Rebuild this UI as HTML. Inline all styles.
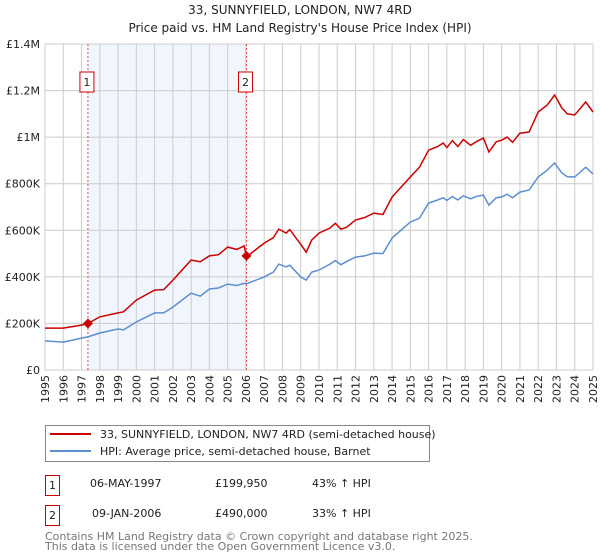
<!DOCTYPE html>
<html><head><meta charset="utf-8"><style>
body{margin:0;background:#fff;font-family:"DejaVu Sans","Liberation Sans",sans-serif;}
svg{display:block}
</style></head><body>
<svg id="chart" width="600" height="560" viewBox="0 0 600 560" xmlns="http://www.w3.org/2000/svg" font-family="DejaVu Sans, Liberation Sans, sans-serif">
<text x="300" y="14" text-anchor="middle" font-size="12" fill="#222">33, SUNNYFIELD, LONDON, NW7 4RD</text>
<text x="300" y="32" text-anchor="middle" font-size="12" fill="#222">Price paid vs. HM Land Registry's House Price Index (HPI)</text>
<g id="plot"></g>
<g>
<rect x="45.5" y="425.5" width="384" height="36" fill="#fff" stroke="#888"/>
<line x1="50" y1="434" x2="91" y2="434" stroke="#cc0000" stroke-width="2"/>
<text x="100" y="438" font-size="11" fill="#222">33, SUNNYFIELD, LONDON, NW7 4RD (semi-detached house)</text>
<line x1="50" y1="451" x2="91" y2="451" stroke="#5b8fd0" stroke-width="2"/>
<text x="100" y="455" font-size="11" fill="#222">HPI: Average price, semi-detached house, Barnet</text>
</g>
<g font-size="11" fill="#222">
<rect x="45.5" y="475.5" width="14" height="20" fill="#fff" stroke="#cc0000"/>
<text x="52.5" y="489" text-anchor="middle">1</text>
<text x="90" y="487">06-MAY-1997</text>
<text x="215" y="487">£199,950</text>
<text x="312" y="487">43% ↑ HPI</text>
<rect x="45.5" y="505.5" width="14" height="20" fill="#fff" stroke="#cc0000"/>
<text x="52.5" y="519" text-anchor="middle">2</text>
<text x="92" y="517">09-JAN-2006</text>
<text x="215" y="517">£490,000</text>
<text x="312" y="517">33% ↑ HPI</text>
</g>
<text x="45" y="540" font-size="11" fill="#777">Contains HM Land Registry data © Crown copyright and database right 2025.</text>
<text x="45" y="550" font-size="11" fill="#777">This data is licensed under the Open Government Licence v3.0.</text>
</svg>
<script>
const yTicks=[0,200,400,600,800,1000,1200,1400];
const yTickLabels=["£0","£200K","£400K","£600K","£800K","£1M","£1.2M","£1.4M"];
const years=[1995,1996,1997,1998,1999,2000,2001,2002,2003,2004,2005,2006,2007,2008,2009,2010,2011,2012,2013,2014,2015,2016,2017,2018,2019,2020,2021,2022,2023,2024,2025];
const hpiT=[1995,1996,1997,1997.35,1998,1999,1999.3,2000,2001,2001.5,2002,2003,2003.5,2004,2004.5,2005,2005.5,2005.9,2006.03,2007,2007.5,2007.8,2008.2,2008.4,2009,2009.3,2009.6,2010,2010.6,2010.9,2011.2,2011.5,2012,2012.5,2013,2013.5,2014,2015,2015.5,2016,2016.5,2016.8,2017,2017.3,2017.6,2017.9,2018.3,2018.6,2019,2019.3,2019.7,2020,2020.3,2020.6,2021,2021.5,2022,2022.5,2022.9,2023.3,2023.6,2024,2024.6,2025];
const hpiV=[125,120,137,142,159,176,172,206,245,245,270,330,317,348,352,369,363,372,370,400,420,455,443,450,400,386,420,429,455,470,452,465,485,490,502,500,567,635,652,717,730,740,728,745,730,748,735,745,751,708,740,743,755,740,764,773,829,859,889,846,830,829,871,842];
const priceT=hpiT;
const priceV=[180,180,193,200,228,245,250,300,343,345,386,472,465,490,495,528,518,533,486,545,568,605,588,603,540,506,558,588,610,630,605,612,644,655,674,668,743,829,871,944,960,975,955,985,960,990,965,980,996,936,980,987,1000,978,1017,1022,1108,1138,1181,1125,1100,1095,1151,1108];
const saleT=[1997.35,2006.03];
const saleV=[199.95,490];
const saleLabels=["1","2"];

const X0=45,X1=593,Y0=370,Y1=44;
const xs=t=>X0+(t-1995)/(2025-1995)*(X1-X0);
const ys=v=>Y0-v/1400*(Y0-Y1);
const NS="http://www.w3.org/2000/svg";
const g=document.getElementById('plot');
function mk(tag,attrs){const e=document.createElementNS(NS,tag);for(const k in attrs)e.setAttribute(k,attrs[k]);g.appendChild(e);return e;}

const shade=mk('rect',{x:xs(saleT[0]),y:Y1,width:xs(saleT[1])-xs(saleT[0]),height:Y0-Y1,fill:'#eef3fc',opacity:0.8});


years.forEach(yr=>{
 const l=mk('line',{x1:xs(yr),x2:xs(yr),y1:Y1,y2:Y0,stroke:'#cccccc','stroke-width':1});
 
 
 const t=mk('text',{x:0,y:0,'font-size':11,fill:'#222','text-anchor':'end',transform:`translate(${xs(yr)+4},375) rotate(-90)`});
 t.textContent=yr;
 
 
});
yTicks.forEach((v,i)=>{
 const l=mk('line',{x1:X0,x2:X1,y1:ys(v),y2:ys(v),stroke:'#cccccc','stroke-width':1});
 
 
 const t=mk('text',{x:40,y:ys(v)+4,'font-size':11,fill:'#222','text-anchor':'end'});
 t.textContent=yTickLabels[i];
 
 
});
saleT.forEach((t,i)=>{
 const l=mk('line',{x1:xs(t),x2:xs(t),y1:Y1,y2:Y0,stroke:'#ee4444','stroke-width':1,'stroke-dasharray':'2,2'});
 
 
 const b=mk('rect',{x:xs(t)-8,y:72,width:14,height:20,fill:'#fff',stroke:'#cc0000'});
 
 
 const tx=mk('text',{x:xs(t)-1,y:86,'font-size':11,fill:'#222','text-anchor':'middle'});
 tx.textContent=saleLabels[i];
 
 
});
const pts=(T,V)=>T.map((t,i)=>xs(t).toFixed(1)+','+ys(V[i]).toFixed(1)).join(' ');
const hl=mk('polyline',{points:pts(hpiT,hpiV),fill:'none',stroke:'#5b8fd0','stroke-width':1.5});


const pl=mk('polyline',{points:pts(priceT,priceV),fill:'none',stroke:'#cc0000','stroke-width':1.5});


saleT.forEach((t,i)=>{
 const d=mk('path',{d:`M${xs(t)-5},${ys(saleV[i])} l5,-5 l5,5 l-5,5 z`,fill:'#cc0000'});
 
 
});
</script>
</body></html>
